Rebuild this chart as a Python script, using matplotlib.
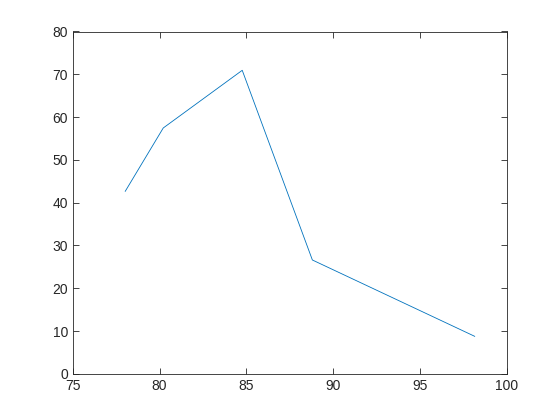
import matplotlib
matplotlib.use("Agg")
import matplotlib.pyplot as plt

# data
x = [78.02, 80.21, 84.76, 88.80, 98.15]
y = [42.65, 57.45, 70.93, 26.60, 8.76]

plt.rcParams['font.family'] = ['Liberation Sans', 'DejaVu Sans']

fig = plt.figure(figsize=(5.6, 4.2), dpi=100)
ax = fig.add_axes([0.13, 0.11, 0.775, 0.815])

ax.plot(x, y, color=(0, 0.447, 0.741), linewidth=0.6)

ax.set_xlim(75, 100)
ax.set_ylim(0, 80)
ax.set_xticks(range(75, 101, 5))
ax.set_yticks(range(0, 81, 10))

grey = (0.15, 0.15, 0.15)
for s in ax.spines.values():
    s.set_color(grey)
    s.set_linewidth(0.6)
ax.tick_params(direction='in', length=4, width=0.6, colors=grey,
               labelsize=10, top=True, right=True)

fig.savefig("out.png", dpi=100)
